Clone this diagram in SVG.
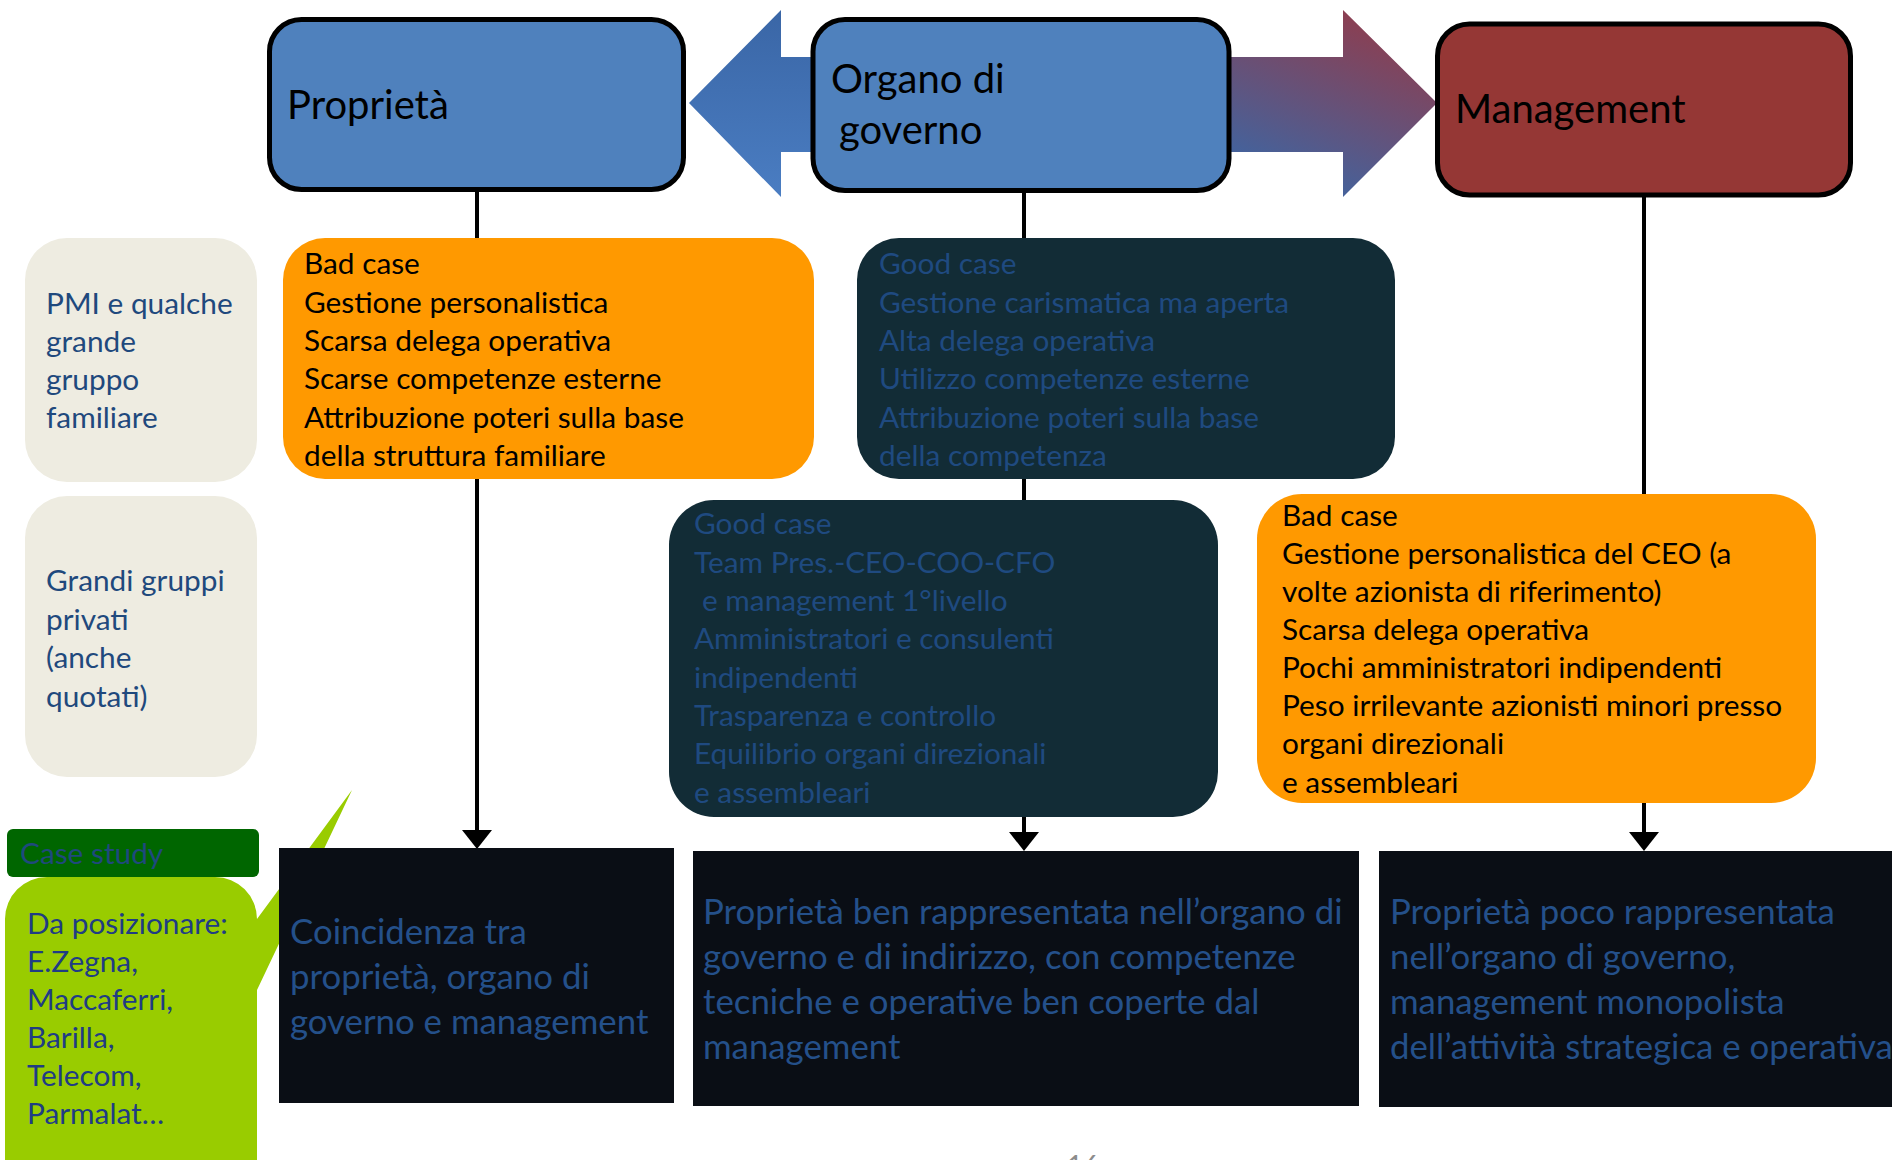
<svg xmlns="http://www.w3.org/2000/svg" width="1892" height="1160" viewBox="0 0 1892 1160">
  <style>
    text { font-family: Lato, "Liberation Sans", sans-serif; }
    .head { font-size: 40px; fill: #000000; }
    .body { font-size: 29.8px; }
    .big { font-size: 34.8px; fill: #24508A; }
    .ink { fill: #000000; }
    .navy { fill: #1F497D; }
    .ondark { fill: #1F4A80; }
    .topbox { stroke: #000000; stroke-width: 5; }
    .blue { fill: #4F81BD; }
    .orange { fill: #FF9900; }
    .teal { fill: #122C36; }
    .night { fill: #0A0E15; }
    .beige { fill: #EEECE1; }
    .wire { stroke: #000000; stroke-width: 4; fill: none; }
  </style>
  <defs>
    <marker id="head" viewBox="0 0 19 30" refX="0" refY="15" markerWidth="19" markerHeight="30" markerUnits="userSpaceOnUse" orient="auto">
      <path d="M0,0 L19,15 L0,30 Z" fill="#000000"/>
    </marker>
    <linearGradient id="gLeft" x1="0" y1="0" x2="0" y2="1">
      <stop offset="0" stop-color="#3A66A6"/>
      <stop offset="1" stop-color="#4A7DC2"/>
    </linearGradient>
    <linearGradient id="gRight" gradientUnits="userSpaceOnUse" x1="1260" y1="197" x2="1340" y2="10">
      <stop offset="0" stop-color="#3868A8"/>
      <stop offset="1" stop-color="#8B3F52"/>
    </linearGradient>
  </defs>

  <rect width="1892" height="1160" fill="#FFFFFF"/>

  <!-- connectors: block arrows between the top boxes and the vertical flow lines -->
  <g id="connectors">
    <path id="arrow-to-proprieta" d="M689,103 L781,10 L781,57 L815,57 L815,152 L781,152 L781,197 Z" fill="url(#gLeft)"/>
    <path id="arrow-to-management" d="M1225,57 L1343,57 L1343,10 L1437,103 L1343,197 L1343,152 L1225,152 Z" fill="url(#gRight)"/>
    <line class="wire" x1="477" y1="189" x2="477" y2="830" marker-end="url(#head)"/>
    <line class="wire" x1="1024" y1="190" x2="1024" y2="832" marker-end="url(#head)"/>
    <line class="wire" x1="1644" y1="195" x2="1644" y2="832" marker-end="url(#head)"/>
  </g>

  <g id="proprieta">
    <rect class="topbox blue" x="269.5" y="19.5" width="414" height="170" rx="32"/>
    <text class="head" x="287" y="119">Proprietà</text>
  </g>

  <g id="organo-di-governo">
    <rect class="topbox blue" x="813" y="19.5" width="416" height="171" rx="32"/>
    <text class="head" x="831" y="93">Organo di</text>
    <text class="head" x="839" y="144">governo</text>
  </g>

  <g id="management">
    <rect class="topbox" fill="#953735" x="1437.5" y="24" width="413" height="171" rx="32"/>
    <text class="head" x="1455" y="123">Management</text>
  </g>

  <g id="row-pmi">
    <rect class="beige" x="25" y="238" width="232" height="244" rx="42"/>
    <text class="body navy">
      <tspan x="46" y="314">PMI e qualche</tspan>
      <tspan x="46" y="352">grande</tspan>
      <tspan x="46" y="390">gruppo</tspan>
      <tspan x="46" y="428">familiare</tspan>
    </text>
  </g>

  <g id="row-grandi-gruppi">
    <rect class="beige" x="25" y="496" width="232" height="281" rx="42"/>
    <text class="body navy">
      <tspan x="46" y="591">Grandi gruppi</tspan>
      <tspan x="46" y="630">privati</tspan>
      <tspan x="46" y="668">(anche</tspan>
      <tspan x="46" y="707">quotati)</tspan>
    </text>
  </g>

  <g id="bad-case-proprieta">
    <rect class="orange" x="283" y="238" width="531" height="241" rx="42"/>
    <text class="body ink">
      <tspan x="304" y="274">Bad case</tspan>
      <tspan x="304" y="313">Gestione personalistica</tspan>
      <tspan x="304" y="351">Scarsa delega operativa</tspan>
      <tspan x="304" y="389">Scarse competenze esterne</tspan>
      <tspan x="304" y="428">Attribuzione poteri sulla base</tspan>
      <tspan x="304" y="466">della struttura familiare</tspan>
    </text>
  </g>

  <g id="good-case-organo">
    <rect class="teal" x="857" y="238" width="538" height="241" rx="42"/>
    <text class="body ondark">
      <tspan x="879" y="274">Good case</tspan>
      <tspan x="879" y="313">Gestione carismatica ma aperta</tspan>
      <tspan x="879" y="351">Alta delega operativa</tspan>
      <tspan x="879" y="389">Utilizzo competenze esterne</tspan>
      <tspan x="879" y="428">Attribuzione poteri sulla base</tspan>
      <tspan x="879" y="466">della competenza</tspan>
    </text>
  </g>

  <g id="good-case-grandi-gruppi">
    <rect class="teal" x="669" y="500" width="549" height="317" rx="45"/>
    <text class="body ondark">
      <tspan x="694" y="534">Good case</tspan>
      <tspan x="694" y="573">Team Pres.-CEO-COO-CFO</tspan>
      <tspan x="702" y="611">e management 1°livello</tspan>
      <tspan x="694" y="649">Amministratori e consulenti</tspan>
      <tspan x="694" y="688">indipendenti</tspan>
      <tspan x="694" y="726">Trasparenza e controllo</tspan>
      <tspan x="694" y="764">Equilibrio organi direzionali</tspan>
      <tspan x="694" y="803">e assembleari</tspan>
    </text>
  </g>

  <g id="bad-case-management">
    <rect class="orange" x="1257" y="494" width="559" height="309" rx="45"/>
    <text class="body ink">
      <tspan x="1282" y="526">Bad case</tspan>
      <tspan x="1282" y="564">Gestione personalistica del CEO (a</tspan>
      <tspan x="1282" y="602">volte azionista di riferimento)</tspan>
      <tspan x="1282" y="640">Scarsa delega operativa</tspan>
      <tspan x="1282" y="678">Pochi amministratori indipendenti</tspan>
      <tspan x="1282" y="716">Peso irrilevante azionisti minori presso</tspan>
      <tspan x="1282" y="754">organi direzionali</tspan>
      <tspan x="1282" y="793">e assembleari</tspan>
    </text>
  </g>

  <g id="case-study">
    <rect x="7" y="829" width="252" height="48" rx="6" fill="#006600"/>
    <text class="body navy" x="20" y="864">Case study</text>
    <path d="M47,877 H215 A42,42 0 0 1 257,919 L352,790 L257,990 V1200 H5 V919 A42,42 0 0 1 47,877 Z" fill="#99CC00"/>
    <text class="body" fill="#203C84">
      <tspan x="27" y="934">Da posizionare:</tspan>
      <tspan x="27" y="972">E.Zegna,</tspan>
      <tspan x="27" y="1010">Maccaferri,</tspan>
      <tspan x="27" y="1048">Barilla,</tspan>
      <tspan x="27" y="1086">Telecom,</tspan>
      <tspan x="27" y="1124">Parmalat…</tspan>
    </text>
  </g>

  <g id="esito-coincidenza">
    <rect class="night" x="279" y="848" width="395" height="255"/>
    <text class="big">
      <tspan x="290" y="944">Coincidenza tra</tspan>
      <tspan x="290" y="989">proprietà, organo di</tspan>
      <tspan x="290" y="1034">governo e management</tspan>
    </text>
  </g>

  <g id="esito-proprieta-rappresentata">
    <rect class="night" x="693" y="851" width="666" height="255"/>
    <text class="big">
      <tspan x="703" y="924">Proprietà ben rappresentata nell’organo di</tspan>
      <tspan x="703" y="969">governo e di indirizzo, con competenze</tspan>
      <tspan x="703" y="1014">tecniche e operative ben coperte dal</tspan>
      <tspan x="703" y="1059">management</tspan>
    </text>
  </g>

  <g id="esito-management-monopolista">
    <rect class="night" x="1379" y="851" width="513" height="256"/>
    <text class="big">
      <tspan x="1390" y="924">Proprietà poco rappresentata</tspan>
      <tspan x="1390" y="969">nell’organo di governo,</tspan>
      <tspan x="1390" y="1014">management monopolista</tspan>
      <tspan x="1390" y="1059">dell’attività strategica e operativa</tspan>
    </text>
  </g>

  <text x="1083" y="1176" font-size="28" fill="#8C8C8C" text-anchor="middle">16</text>
</svg>
